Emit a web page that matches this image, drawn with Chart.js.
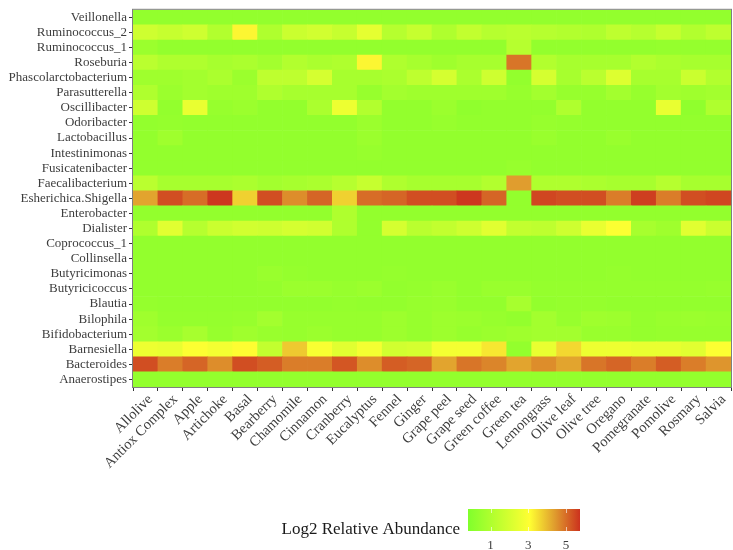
<!DOCTYPE html>
<html>
<head>
<meta charset="utf-8">
<script src="https://cdn.jsdelivr.net/npm/chart.js@4.4.1/dist/chart.umd.min.js"></script>
<style>
  html, body { margin: 0; padding: 0; background: #fff; }
  #wrap { width: 733px; height: 550px; }
</style>
</head>
<body>
<div id="wrap"><canvas id="heat"></canvas></div>
<script>
// genera, top to bottom as in the figure
const genera = [
    "Veillonella", "Ruminococcus_2", "Ruminococcus_1", "Roseburia", "Phascolarctobacterium",
    "Parasutterella", "Oscillibacter", "Odoribacter", "Lactobacillus", "Intestinimonas",
    "Fusicatenibacter", "Faecalibacterium", "Esherichica.Shigella", "Enterobacter", "Dialister",
    "Coprococcus_1", "Collinsella", "Butyricimonas", "Butyricicoccus", "Blautia",
    "Bilophila", "Bifidobacterium", "Barnesiella", "Bacteroides", "Anaerostipes"
];

const treatments = [
    "Allolive", "Antiox Complex", "Apple", "Artichoke", "Basal", "Bearberry", "Chamomile",
    "Cinnamon", "Cranberry", "Eucalyptus", "Fennel", "Ginger", "Grape peel", "Grape seed",
    "Green coffee", "Green tea", "Lemongrass", "Olive leaf", "Olive tree", "Oregano",
    "Pomegranate", "Pomolive", "Rosmary", "Salvia"
];

// log2 relative abundance, one row per genus (same order as genera)
const abundance = [
    [0.3, 0.3, 0.3, 0.3, 0.3, 0.3, 0.3, 0.3, 0.3, 0.3, 0.3, 0.3, 0.3, 0.3, 0.3, 0.3, 0.3, 0.3, 0.3, 0.3, 0.3, 0.3, 0.3, 0.3],
    [1.8, 1.6, 1.8, 1.1, 3.2, 1.0, 1.7, 1.9, 1.6, 2.4, 1.2, 1.6, 1.0, 1.5, 1.2, 1.3, 1.2, 1.1, 1.0, 1.4, 1.2, 1.6, 1.1, 1.4],
    [0.5, 0.3, 0.3, 0.3, 0.3, 0.3, 0.3, 0.3, 0.3, 0.3, 0.3, 0.3, 0.3, 0.3, 0.3, 1.2, 0.3, 0.3, 0.3, 0.3, 0.3, 0.35, 0.35, 0.35],
    [1.3, 1.0, 1.0, 0.8, 0.9, 0.7, 1.1, 0.9, 1.0, 3.2, 1.0, 0.8, 0.6, 0.8, 0.8, 4.9, 1.1, 0.8, 0.8, 0.8, 1.1, 0.9, 0.8, 0.8],
    [0.6, 0.6, 0.7, 0.9, 0.5, 1.4, 1.4, 2.0, 0.8, 0.8, 0.9, 1.4, 2.0, 0.9, 1.8, 0.3, 2.0, 0.8, 1.3, 2.2, 0.8, 0.8, 1.7, 1.1],
    [1.0, 0.5, 0.7, 0.6, 0.6, 1.0, 0.8, 0.8, 0.8, 0.4, 0.7, 0.6, 0.6, 0.6, 0.6, 0.4, 0.7, 0.4, 0.4, 0.7, 0.4, 0.7, 0.6, 0.7],
    [1.8, 0.3, 2.5, 0.4, 0.5, 0.3, 0.3, 0.9, 2.6, 1.1, 0.3, 0.3, 0.5, 0.2, 0.3, 0.3, 0.3, 1.0, 0.3, 0.3, 0.3, 2.5, 0.2, 1.0],
    [0.3, 0.35, 0.3, 0.3, 0.3, 0.3, 0.3, 0.3, 0.3, 0.5, 0.3, 0.3, 0.4, 0.3, 0.3, 0.3, 0.4, 0.35, 0.3, 0.3, 0.3, 0.3, 0.3, 0.3],
    [0.3, 0.6, 0.3, 0.3, 0.3, 0.3, 0.3, 0.3, 0.3, 0.5, 0.3, 0.3, 0.3, 0.3, 0.3, 0.3, 0.45, 0.3, 0.3, 0.45, 0.3, 0.3, 0.3, 0.3],
    [0.3, 0.3, 0.3, 0.3, 0.3, 0.3, 0.3, 0.3, 0.3, 0.4, 0.3, 0.3, 0.3, 0.3, 0.3, 0.3, 0.3, 0.3, 0.3, 0.3, 0.3, 0.3, 0.3, 0.3],
    [0.3, 0.3, 0.3, 0.3, 0.3, 0.3, 0.3, 0.3, 0.3, 0.3, 0.3, 0.3, 0.3, 0.3, 0.3, 0.4, 0.3, 0.3, 0.3, 0.3, 0.3, 0.3, 0.3, 0.3],
    [1.3, 0.8, 0.8, 0.8, 0.9, 0.7, 0.8, 0.9, 1.2, 1.6, 1.0, 0.8, 0.8, 0.8, 1.1, 4.4, 1.0, 1.0, 0.9, 0.8, 0.8, 1.2, 0.8, 0.8],
    [4.3, 5.4, 5.0, 5.7, 3.7, 5.4, 4.6, 5.1, 3.7, 5.0, 5.1, 5.4, 5.4, 5.7, 5.1, 0.3, 5.5, 5.4, 5.4, 4.8, 5.6, 4.8, 5.4, 5.5],
    [0.3, 0.3, 0.3, 0.3, 0.3, 0.3, 0.3, 0.3, 1.0, 0.3, 0.3, 0.3, 0.3, 0.3, 0.3, 0.3, 0.3, 0.3, 0.3, 0.3, 0.3, 0.3, 0.3, 0.3],
    [1.0, 2.3, 1.2, 1.7, 1.9, 1.8, 2.0, 1.9, 1.0, 0.3, 2.0, 1.3, 1.5, 1.8, 2.3, 1.5, 1.4, 1.8, 2.5, 3.0, 0.8, 0.6, 2.3, 1.7],
    [0.3, 0.3, 0.3, 0.3, 0.3, 0.3, 0.3, 0.3, 0.3, 0.3, 0.3, 0.3, 0.3, 0.3, 0.3, 0.3, 0.3, 0.3, 0.3, 0.3, 0.3, 0.3, 0.3, 0.3],
    [0.3, 0.3, 0.3, 0.3, 0.3, 0.3, 0.3, 0.3, 0.3, 0.3, 0.3, 0.3, 0.3, 0.3, 0.3, 0.3, 0.3, 0.3, 0.3, 0.3, 0.3, 0.3, 0.3, 0.3],
    [0.3, 0.3, 0.3, 0.3, 0.3, 0.45, 0.35, 0.3, 0.3, 0.3, 0.35, 0.3, 0.3, 0.3, 0.3, 0.3, 0.3, 0.3, 0.3, 0.35, 0.3, 0.3, 0.3, 0.3],
    [0.3, 0.3, 0.3, 0.3, 0.3, 0.35, 0.5, 0.5, 0.4, 0.5, 0.3, 0.35, 0.45, 0.3, 0.45, 0.45, 0.35, 0.35, 0.35, 0.35, 0.35, 0.35, 0.35, 0.4],
    [0.35, 0.3, 0.3, 0.3, 0.3, 0.3, 0.3, 0.3, 0.35, 0.3, 0.3, 0.4, 0.45, 0.3, 0.3, 0.8, 0.3, 0.35, 0.35, 0.3, 0.3, 0.3, 0.3, 0.3],
    [0.6, 0.35, 0.35, 0.35, 0.4, 0.7, 0.4, 0.4, 0.4, 0.4, 0.55, 0.4, 0.55, 0.5, 0.4, 0.3, 0.7, 0.4, 0.6, 0.55, 0.35, 0.45, 0.5, 0.45],
    [0.7, 0.5, 0.8, 0.4, 0.6, 0.45, 0.4, 0.5, 0.4, 0.4, 0.55, 0.4, 0.55, 0.4, 0.5, 0.6, 0.7, 0.7, 0.45, 0.45, 0.35, 0.4, 0.4, 0.4],
    [2.6, 2.5, 3.0, 2.8, 3.1, 1.5, 3.8, 2.9, 2.3, 2.8, 1.9, 2.0, 2.8, 2.8, 3.4, 0.3, 2.5, 3.6, 2.6, 2.6, 2.5, 2.5, 2.3, 3.0],
    [5.4, 4.8, 5.1, 4.6, 5.4, 5.2, 4.8, 4.8, 5.3, 4.6, 5.2, 5.1, 4.3, 4.9, 4.7, 4.3, 4.6, 4.3, 4.9, 5.1, 4.8, 5.2, 4.8, 4.5],
    [0.3, 0.3, 0.3, 0.3, 0.3, 0.3, 0.3, 0.3, 0.3, 0.3, 0.3, 0.3, 0.3, 0.3, 0.3, 0.3, 0.3, 0.3, 0.3, 0.3, 0.3, 0.3, 0.3, 0.3]
];

const legendTicks = [1, 3, 5];
const legendTitle = "Log2 Relative Abundance";

// colour scale limits and stops (fraction of range -> rgb)
const scaleMin = -0.2;
const scaleMax = 5.75;
const colourStops = [
    [0.00, [128, 255, 44]],
    [0.55, [255, 255, 50]],
    [0.77, [224, 158, 46]],
    [1.00, [204, 50, 30]]
];

const SERIF = "'Liberation Serif', 'Times New Roman', serif";
const TEXT = "#3d3d3d";

function colourFor(v) {
    let t = (v - scaleMin) / (scaleMax - scaleMin);
    t = Math.max(0, Math.min(1, t));
    for (let i = 1; i < colourStops.length; i++) {
        const [t1, c1] = colourStops[i];
        const [t0, c0] = colourStops[i - 1];
        if (t <= t1) {
            const f = (t - t0) / (t1 - t0);
            const c = c0.map((a, k) => Math.round(a + (c1[k] - a) * f));
            return `rgb(${c[0]},${c[1]},${c[2]})`;
        }
    }
    const c = colourStops[colourStops.length - 1][1];
    return `rgb(${c[0]},${c[1]},${c[2]})`;
}

// stacked cells, bottom row first
const datasets = genera.map((g, r) => ({
    label: g,
    data: treatments.map(() => 1),
    values: abundance[r],
    backgroundColor: abundance[r].map(colourFor),
    borderWidth: 0,
    barPercentage: 1,
    categoryPercentage: 1
})).reverse();

const panelBorder = {
    id: "panelBorder",
    afterDatasetsDraw(chart) {
        const { ctx, chartArea: a } = chart;
        ctx.save();
        ctx.strokeStyle = "#7f7f7f";
        ctx.lineWidth = 1;
        ctx.strokeRect(a.left - 0.5, a.top - 0.5, a.right - a.left + 1, a.bottom - a.top + 1);
        ctx.restore();
    }
};

const colourLegend = {
    id: "colourLegend",
    afterDraw(chart) {
        const ctx = chart.ctx;
        const x0 = 468, x1 = 580, y0 = 509, y1 = 531;
        const xOf = (v) => x0 + (v - scaleMin) / (scaleMax - scaleMin) * (x1 - x0);
        ctx.save();
        const grad = ctx.createLinearGradient(x0, 0, x1, 0);
        colourStops.forEach(([t, c]) => grad.addColorStop(t, `rgb(${c[0]},${c[1]},${c[2]})`));
        ctx.fillStyle = grad;
        ctx.fillRect(x0, y0, x1 - x0, y1 - y0);

        ctx.strokeStyle = "rgba(255,255,255,0.6)";
        ctx.lineWidth = 1;
        legendTicks.forEach((v) => {
            const x = Math.round(xOf(v)) + 0.5;
            ctx.beginPath();
            ctx.moveTo(x, y0); ctx.lineTo(x, y0 + 4);
            ctx.moveTo(x, y1 - 4); ctx.lineTo(x, y1);
            ctx.stroke();
        });

        ctx.fillStyle = TEXT;
        ctx.font = `13px ${SERIF}`;
        ctx.textAlign = "center";
        ctx.textBaseline = "middle";
        legendTicks.forEach((v) => ctx.fillText(String(v), xOf(v), 546));

        ctx.fillStyle = "#1a1a1a";
        ctx.font = `17px ${SERIF}`;
        ctx.textAlign = "right";
        ctx.fillText(legendTitle, 460, 530);
        ctx.restore();
    }
};

new Chart(document.getElementById("heat"), {
    type: "bar",
    data: { labels: treatments, datasets },
    options: {
        responsive: true,
        maintainAspectRatio: false,
        animation: false,
        layout: { padding: { top: 2, right: 2, bottom: 0, left: 0 } },
        plugins: {
            legend: { display: false },
            tooltip: {
                callbacks: {
                    label: (item) => `${item.dataset.label}: ${item.dataset.values[item.dataIndex]}`
                }
            }
        },
        scales: {
            x: {
                stacked: true,
                grid: { display: true, drawOnChartArea: false, tickLength: 4, color: "#333" },
                border: { display: false },
                ticks: {
                    maxRotation: 45,
                    minRotation: 45,
                    autoSkip: false,
                    padding: 0,
                    labelOffset: 5,
                    color: TEXT,
                    font: { family: SERIF, size: 14.5 }
                },
                afterFit: (scale) => { scale.height = 163; }
            },
            y: {
                type: "linear",
                stacked: true,
                min: 0,
                max: genera.length,
                grid: { display: true, drawOnChartArea: false, tickLength: 4, color: "#333" },
                border: { display: false },
                afterBuildTicks: (scale) => {
                    scale.ticks = genera.map((g, i) => ({ value: i + 0.5 }));
                },
                ticks: {
                    autoSkip: false,
                    padding: 2,
                    color: TEXT,
                    font: { family: SERIF, size: 13 },
                    callback: (value) => genera[genera.length - 1 - Math.floor(value)]
                },
                afterFit: (scale) => { scale.width = 133; }
            }
        }
    },
    plugins: [panelBorder, colourLegend]
});
</script>
</body>
</html>
